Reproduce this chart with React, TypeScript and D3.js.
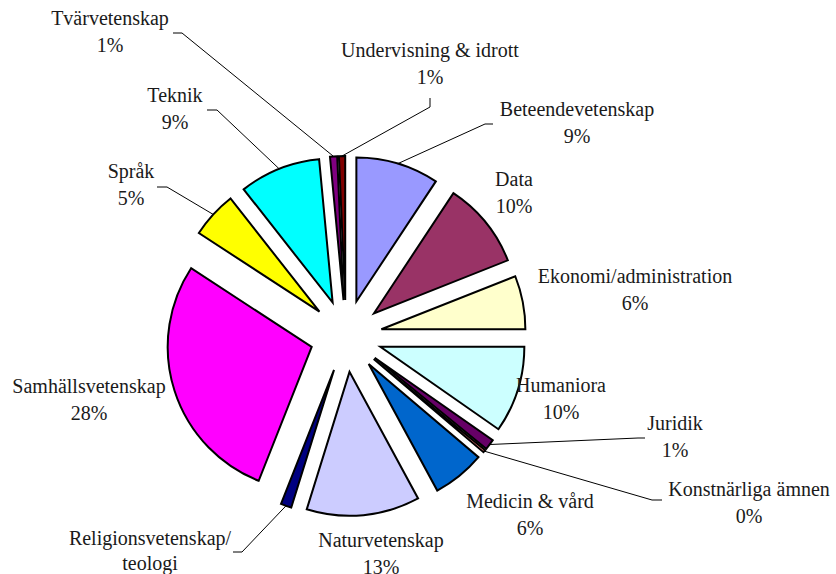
import React from "react";
import * as d3 from "d3";

const categories = [
  "Beteendevetenskap",
  "Data",
  "Ekonomi/administration",
  "Humaniora",
  "Juridik",
  "Konstnärliga ämnen",
  "Medicin & vård",
  "Naturvetenskap",
  "Religionsvetenskap/\nteologi",
  "Samhällsvetenskap",
  "Språk",
  "Teknik",
  "Tvärvetenskap",
  "Undervisning & idrott",
];

const values = [9.3, 9.7, 6.0, 9.7, 1.2, 0.3, 5.9, 12.7, 1.2, 28.2, 5.2, 9.1, 0.8, 0.7];

// which labels show their percentage line inside the picture
const showPct = [true, true, true, true, true, true, true, true, false, true, true, true, true, true];

const colors = [
  "#9999FF", "#993366", "#FFFFCC", "#CCFFFF", "#660066", "#FF8080", "#0066CC",
  "#CCCCFF", "#000080", "#FF00FF", "#FFFF00", "#00FFFF", "#800080", "#800000",
];

// layout: label anchor (center x, first baseline y)
const labelPos: [number, number][] = [
  [577, 116], [514, 186], [635, 283], [561, 392], [675, 430], [749, 496], [530, 508],
  [381, 547], [150, 545], [89, 393], [131, 178], [175, 102], [110, 25], [430, 57],
];

// layout: leader tail and elbow points (null = no leader)
const leaders: ([number, number][] | null)[] = [
  [[493, 124], [485, 124]],
  null,
  null,
  null,
  [[645, 438], [638, 438]],
  [[662, 500], [652, 500]],
  null,
  null,
  [[233, 552], [242, 552]],
  null,
  [[157, 187], [167, 187]],
  [[207, 110], [217, 110]],
  [[173, 33], [182, 33]],
  [[430, 98], [430, 107]],
];

const W = 836;
const H = 574;
const cx = 346;
const cy = 336;
const R = 144;
const explode = 36;

export default function App() {
  const pie = d3.pie<number>().sort(null).value((d) => d);
  const arcs = pie(values);
  const arcGen = d3.arc<d3.PieArcDatum<number>>().innerRadius(0).outerRadius(R);
  const fontFamily = "Liberation Serif, DejaVu Serif, Times New Roman, serif";

  return (
    <svg
      width={W}
      height={H}
      style={{ position: "absolute", left: 0, top: 0, background: "#fff" }}
    >
      <rect x={0} y={0} width={W} height={H} fill="#fff" />
      {arcs.map((a, i) => {
        const mid = (a.startAngle + a.endAngle) / 2;
        const ox = cx + explode * Math.sin(mid);
        const oy = cy - explode * Math.cos(mid);
        return (
          <path
            key={"s" + i}
            d={arcGen(a) || ""}
            transform={`translate(${ox},${oy})`}
            fill={colors[i]}
            stroke="#000"
            strokeWidth={2}
            strokeLinejoin="miter"
          />
        );
      })}
      {arcs.map((a, i) => {
        const L = leaders[i];
        if (!L) return null;
        const mid = (a.startAngle + a.endAngle) / 2;
        const px = cx + (explode + R) * Math.sin(mid);
        const py = cy - (explode + R) * Math.cos(mid);
        const line = d3.line()([L[0], L[1], [px, py]]);
        return (
          <path key={"l" + i} d={line || ""} fill="none" stroke="#000" strokeWidth={1} />
        );
      })}
      {categories.map((c, i) => {
        const lines = c.split("\n");
        if (showPct[i]) lines.push(Math.round(values[i]) + "%");
        const [x, y] = labelPos[i];
        return (
          <text
            key={"t" + i}
            x={x}
            y={y}
            textAnchor="middle"
            style={{ fontFamily, fontSize: "20px" }}
            fill="#1a1a1a"
          >
            {lines.map((ln, j) => (
              <tspan key={j} x={x} dy={j === 0 ? 0 : j === 1 && i === 8 ? 25 : 27}>
                {ln}
              </tspan>
            ))}
          </text>
        );
      })}
    </svg>
  );
}
